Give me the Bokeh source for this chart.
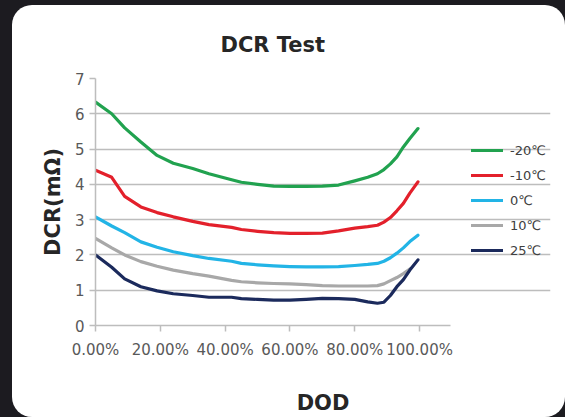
from bokeh.plotting import figure
from bokeh.models import (FixedTicker, NumeralTickFormatter, Legend, LegendItem,
                          Range1d, GlobalInlineStyleSheet)
from bokeh.embed import file_html
from bokeh.resources import INLINE

# ---- data ----
dod = [0.0, 0.05, 0.09, 0.14, 0.19, 0.24, 0.30, 0.35, 0.42, 0.45, 0.50, 0.55,
       0.60, 0.65, 0.70, 0.75, 0.80, 0.84, 0.87, 0.89, 0.91, 0.93, 0.95, 0.97, 0.995]

series_names = ["-20℃", "-10℃", "0℃", "10℃", "25℃"]

dcr_m20 = [6.33, 6.00, 5.60, 5.20, 4.82, 4.60, 4.45, 4.30, 4.13, 4.06, 4.00, 3.95,
           3.94, 3.94, 3.95, 3.98, 4.10, 4.20, 4.30, 4.42, 4.58, 4.78, 5.06, 5.30, 5.58]
dcr_m10 = [4.40, 4.20, 3.66, 3.36, 3.20, 3.08, 2.95, 2.86, 2.78, 2.72, 2.67, 2.63,
           2.61, 2.61, 2.62, 2.68, 2.76, 2.80, 2.84, 2.93, 3.06, 3.25, 3.46, 3.75, 4.07]
dcr_0 = [3.08, 2.82, 2.63, 2.37, 2.22, 2.09, 1.98, 1.90, 1.82, 1.76, 1.72, 1.69,
         1.67, 1.66, 1.66, 1.67, 1.70, 1.73, 1.76, 1.82, 1.92, 2.05, 2.20, 2.38, 2.56]
dcr_10 = [2.47, 2.20, 2.00, 1.81, 1.68, 1.57, 1.47, 1.40, 1.28, 1.24, 1.21, 1.19,
          1.18, 1.16, 1.13, 1.12, 1.12, 1.12, 1.13, 1.18, 1.27, 1.36, 1.47, 1.60]
dcr_25 = [2.00, 1.65, 1.32, 1.10, 0.98, 0.90, 0.85, 0.80, 0.80, 0.76, 0.74, 0.72,
          0.72, 0.74, 0.77, 0.76, 0.74, 0.67, 0.63, 0.66, 0.85, 1.10, 1.30, 1.57, 1.86]

x_ticks = [0.0, 0.2, 0.4, 0.6, 0.8, 1.0]
y_ticks = [0, 1, 2, 3, 4, 5, 6, 7]

colors = ["#21a24f", "#e3202b", "#22b4e6", "#a8a8a8", "#1b2a5c"]

# ---- figure ----
# the frame is widened to the right so that the legend sits inside it;
# axis and grid lines are bounded to the visible axis extent
x_axis_end = 1.096
p = figure(width=553, height=412, output_backend="svg", toolbar_location=None,
           x_range=Range1d(0, 1.404), y_range=Range1d(0, 7),
           min_border_left=83, min_border_right=15, min_border_top=73,
           min_border_bottom=91, title="DCR Test")
p.stylesheets = [GlobalInlineStyleSheet(
    css="html,body{margin:0;padding:0;background:#1c1b20;overflow:hidden;}")]
p.styles = {"margin-left": "12px", "margin-top": "5px",
            "border-radius": "20px", "overflow": "hidden",
            "background-color": "white"}
p.border_fill_color = None
p.background_fill_color = None
p.outline_line_color = None

p.title.align = "left"
p.title.offset = 125
p.title.text_font = "DejaVu Sans"
p.title.text_font_style = "bold"
p.title.text_font_size = "21px"
p.title.text_color = "#262626"
p.title.standoff = 44

grid_col = "#bdbdbd"
p.xgrid.visible = False
p.ygrid.ticker = FixedTicker(ticks=y_ticks)
p.ygrid.grid_line_color = grid_col
p.ygrid.grid_line_width = 1.5
p.ygrid.bounds = (0, x_axis_end)

for ax in (p.xaxis[0], p.yaxis[0]):
    ax.axis_line_color = grid_col
    ax.axis_line_width = 1.5
    ax.major_tick_line_color = grid_col
    ax.major_tick_line_width = 1.5
    ax.major_tick_out = 6
    ax.major_tick_in = 0
    ax.minor_tick_line_color = None
    ax.major_label_text_font = "DejaVu Sans"
    ax.major_label_text_font_size = "15px"
    ax.major_label_text_color = "#595959"
    ax.axis_label_text_font = "DejaVu Sans"
    ax.axis_label_text_font_style = "bold"
    ax.axis_label_text_color = "#262626"

p.xaxis.ticker = FixedTicker(ticks=x_ticks)
p.xaxis.formatter = NumeralTickFormatter(format="0.00%")
p.xaxis.bounds = (0, x_axis_end)
p.xaxis.major_label_standoff = 9
p.xaxis.axis_label = "DOD"
p.xaxis.axis_label_text_font_size = "21px"
p.xaxis.axis_label_standoff = 29

p.yaxis.ticker = FixedTicker(ticks=y_ticks)
p.yaxis.major_label_standoff = 5
p.yaxis.axis_label = "DCR(mΩ)"
p.yaxis.axis_label_text_font_size = "21px"
p.yaxis.axis_label_standoff = 7

all_series = [dcr_m20, dcr_m10, dcr_0, dcr_10, dcr_25]
items = []
for name, vals, col in zip(series_names, all_series, colors):
    r = p.line(dod[:len(vals)], vals, line_color=col, line_width=3.2,
               line_join="round", line_cap="round")
    items.append(LegendItem(label=name, renderers=[r]))

legend = Legend(items=items, location=(376, 65), padding=0, margin=0,
                spacing=5, glyph_width=32, glyph_height=20, label_height=20,
                label_standoff=7, label_text_font="DejaVu Sans",
                label_text_font_size="13px", label_text_color="#404040",
                border_line_color=None, background_fill_alpha=0)
p.add_layout(legend, "center")

open("out.html", "w").write(file_html(p, INLINE))
